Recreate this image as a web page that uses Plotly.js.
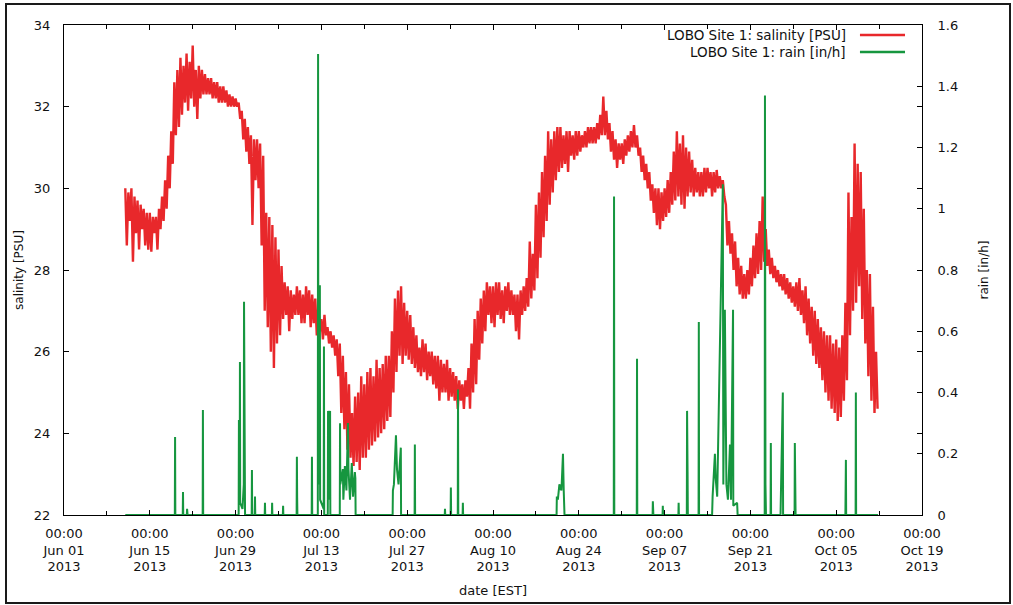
<!DOCTYPE html>
<html>
<head>
<meta charset="utf-8">
<script src="https://cdn.plot.ly/plotly-3.0.1.min.js"></script>
<style>
  html, body { margin: 0; padding: 0; background: #fff; }
  #chart { position: absolute; left: 0; top: 0; width: 1013px; height: 605px; }
  #frame { position: absolute; left: 5px; top: 3px; width: 1002px; height: 597px;
           border: 2px solid #1a1a1a; pointer-events: none; }
</style>
</head>
<body>
<div id="chart"></div>
<div id="frame"></div>
<script>
// LOBO Site 1 salinity [PSU], sampled every 6 hours from 2013-06-11 00:00
// (one row per day: high, low, high, low of the tide)
const salinityStart = '2013-06-11T00:00:00Z';
const salinityStepHours = 6;
const salinity = [
  30.0, 28.6, 29.9, 29.2,   30.0, 28.2, 29.8, 28.9,   29.7, 28.5, 29.6, 29.0,
  29.5, 28.6, 29.4, 28.5,   29.4, 28.45, 29.3, 28.9,  29.3, 28.5, 29.5, 29.0,
  29.8, 29.2, 30.2, 29.5,   30.8, 30.0, 31.4, 30.6,   32.6, 31.3, 32.9, 31.5,
  33.2, 31.8, 33.0, 32.1,   33.3, 31.9, 33.1, 32.2,   33.5, 32.0, 32.9, 31.7,
  33.0, 32.2, 32.9, 32.3,   32.8, 32.3, 32.7, 32.3,   32.7, 32.2, 32.6, 32.2,
  32.6, 32.1, 32.5, 32.1,   32.5, 32.1, 32.4, 32.0,   32.3, 32.0, 32.25, 32.0,
  32.2, 32.0, 32.1, 31.7,   31.9, 31.2, 31.7, 30.9,   31.5, 30.6, 31.3, 29.1,
  31.2, 30.2, 31.2, 30.0,   31.1, 28.6, 30.8, 27.0,   29.4, 26.6, 29.3, 26.0,
  29.1, 25.6, 28.8, 26.2,   28.5, 26.4, 28.1, 26.8,   27.7, 26.9, 27.6, 26.5,
  27.5, 26.8, 27.4, 26.9,   27.6, 26.9, 27.5, 26.7,   27.4, 26.7, 27.6, 26.9,
  27.5, 26.6, 27.4, 26.7,   27.3, 26.4, 27.1, 26.5,   26.8, 26.3, 26.9, 26.4,
  26.6, 26.2, 26.5, 26.1,   26.4, 25.9, 26.3, 25.4,   26.2, 24.5, 25.9, 24.1,
  25.5, 23.6, 25.2, 23.4,   24.5, 23.2, 24.9, 23.3,   25.0, 23.1, 25.4, 23.4,
  25.2, 23.4, 25.5, 23.6,   25.6, 23.7, 25.4, 23.8,   25.8, 23.9, 25.6, 24.0,
  25.7, 24.1, 25.9, 24.3,   25.9, 24.4, 26.5, 25.0,   27.3, 25.5, 27.5, 25.9,
  27.6, 25.7, 27.2, 25.9,   27.0, 25.8, 26.9, 25.7,   26.6, 25.6, 26.4, 25.5,
  26.1, 25.4, 26.3, 25.5,   26.2, 25.3, 26.0, 25.4,   26.0, 25.2, 25.9, 25.1,
  25.9, 24.8, 25.8, 25.0,   25.7, 25.0, 25.8, 24.8,   25.6, 24.9, 25.5, 24.8,
  25.4, 24.6, 25.3, 24.8,   25.2, 24.6, 25.3, 24.9,   25.6, 24.6, 26.2, 25.0,
  26.8, 25.2, 27.0, 25.8,   27.3, 26.2, 27.5, 26.5,   27.7, 26.9, 27.6, 26.7,
  27.6, 26.6, 27.7, 26.9,   27.7, 26.8, 27.5, 26.7,   27.6, 27.0, 27.7, 26.9,
  27.5, 26.9, 27.4, 26.5,   27.4, 26.3, 27.5, 26.9,   27.6, 27.0, 27.8, 27.1,
  28.7, 27.3, 28.4, 27.5,   29.6, 27.8, 29.9, 28.3,   30.4, 28.8, 30.8, 29.2,
  31.4, 29.6, 31.2, 29.9,   31.4, 30.2, 31.5, 30.4,   31.5, 30.5, 31.3, 30.6,
  31.4, 30.4, 31.4, 30.8,   31.3, 30.7, 31.4, 30.8,   31.4, 30.9, 31.3, 31.0,
  31.4, 31.0, 31.5, 31.1,   31.5, 31.1, 31.5, 31.1,   31.6, 31.2, 31.8, 31.3,
  32.25, 31.3, 31.9, 31.2,  31.6, 30.9, 31.4, 30.7,   31.2, 30.5, 31.1, 30.7,
  31.1, 30.6, 31.2, 30.8,   31.3, 30.9, 31.4, 31.0,   31.55, 31.0, 31.3, 30.8,
  31.0, 30.4, 30.8, 30.2,   30.6, 30.0, 30.4, 29.7,   30.1, 29.4, 30.0, 29.1,
  30.0, 29.0, 29.9, 29.2,   30.0, 29.3, 30.2, 29.4,   30.4, 29.6, 30.9, 29.7,
  31.4, 29.8, 31.1, 29.6,   31.3, 29.5, 31.0, 29.8,   30.9, 29.9, 30.7, 29.8,
  30.5, 29.9, 30.4, 29.8,   30.4, 29.8, 30.5, 29.9,   30.5, 30.0, 30.4, 29.8,
  30.4, 29.9, 30.45, 30.0,  30.3, 30.0, 30.2, 29.8,   29.6, 28.6, 29.2, 28.4,
  28.9, 28.0, 28.7, 27.6,   28.3, 27.4, 28.1, 27.3,   27.9, 27.3, 28.0, 27.4,
  28.3, 27.6, 28.6, 27.8,   28.9, 27.9, 29.2, 28.0,   29.8, 28.2, 29.0, 28.1,
  28.5, 27.9, 28.3, 27.8,   28.1, 27.7, 28.0, 27.6,   27.9, 27.5, 27.9, 27.4,
  27.8, 27.3, 27.7, 27.2,   27.6, 27.1, 27.7, 27.0,   27.8, 26.9, 27.5, 26.7,
  27.6, 26.4, 27.3, 26.2,   27.1, 25.9, 27.0, 25.7,   26.8, 25.6, 26.6, 25.3,
  26.5, 25.0, 26.4, 24.8,   26.4, 24.6, 26.2, 24.5,   26.3, 24.3, 26.1, 24.4,
  26.4, 24.8, 27.2, 25.3,   29.9, 26.4, 29.3, 27.0,   31.1, 27.2, 30.6, 27.6,
  30.4, 26.8, 29.5, 26.2,   28.0, 25.4, 27.9, 24.8,   27.1, 24.5, 26.0, 24.6
];

// LOBO Site 1 rain [in/h]: readings as [time, value]; zero between showers
const rainReadings = [
  ['2013-06-11 00:00', 0],
  ['2013-06-19 02:00', 0], ['2013-06-19 03:00', 0.255], ['2013-06-19 04:00', 0],
  ['2013-06-20 09:00', 0], ['2013-06-20 10:00', 0.075], ['2013-06-20 11:00', 0],
  ['2013-06-21 01:00', 0], ['2013-06-21 02:00', 0.02], ['2013-06-21 04:00', 0],
  ['2013-06-23 15:00', 0], ['2013-06-23 16:00', 0.343], ['2013-06-23 17:00', 0],
  ['2013-06-29 12:00', 0], ['2013-06-29 13:00', 0.31], ['2013-06-29 14:00', 0.05],
  ['2013-06-29 16:00', 0.08], ['2013-06-29 17:00', 0.50], ['2013-06-29 18:00', 0.04],
  ['2013-06-30 03:00', 0.02], ['2013-06-30 08:00', 0.1], ['2013-06-30 09:00', 0.696],
  ['2013-06-30 10:00', 0.06], ['2013-06-30 12:00', 0.4], ['2013-06-30 13:00', 0],
  ['2013-07-01 15:00', 0], ['2013-07-01 16:00', 0.147], ['2013-07-01 17:00', 0],
  ['2013-07-02 03:00', 0], ['2013-07-02 04:00', 0.06], ['2013-07-02 05:00', 0],
  ['2013-07-03 18:00', 0], ['2013-07-03 19:00', 0.04], ['2013-07-03 20:00', 0],
  ['2013-07-04 22:00', 0], ['2013-07-04 23:00', 0.04], ['2013-07-05 00:00', 0],
  ['2013-07-06 17:00', 0], ['2013-07-06 18:00', 0.03], ['2013-07-06 19:00', 0],
  ['2013-07-08 23:00', 0], ['2013-07-09 00:00', 0.19], ['2013-07-09 01:00', 0.06], ['2013-07-09 02:00', 0],
  ['2013-07-11 10:00', 0], ['2013-07-11 11:00', 0.19], ['2013-07-11 12:00', 0],
  ['2013-07-12 10:00', 0], ['2013-07-12 11:00', 1.505], ['2013-07-12 12:00', 0.3],
  ['2013-07-12 17:00', 0.1], ['2013-07-12 18:00', 0.75], ['2013-07-12 19:00', 0.05],
  ['2013-07-13 09:00', 0.02], ['2013-07-13 10:00', 0.55], ['2013-07-13 11:00', 0],
  ['2013-07-14 01:00', 0], ['2013-07-14 02:00', 0.34], ['2013-07-14 04:00', 0.05],
  ['2013-07-14 10:00', 0.34], ['2013-07-14 11:00', 0],
  ['2013-07-16 00:00', 0], ['2013-07-16 01:00', 0.30], ['2013-07-16 02:00', 0.1],
  ['2013-07-16 12:00', 0.15], ['2013-07-16 14:00', 0.05], ['2013-07-16 20:00', 0.16],
  ['2013-07-17 02:00', 0.08], ['2013-07-17 08:00', 0.30], ['2013-07-17 10:00', 0.15],
  ['2013-07-17 16:00', 0.05], ['2013-07-17 23:00', 0.17], ['2013-07-18 04:00', 0.06],
  ['2013-07-18 11:00', 0.14], ['2013-07-18 13:00', 0.12], ['2013-07-18 14:00', 0],
  ['2013-07-24 15:00', 0], ['2013-07-24 16:00', 0.08], ['2013-07-24 20:00', 0.1],
  ['2013-07-25 04:00', 0.26], ['2013-07-25 08:00', 0.15], ['2013-07-25 14:00', 0.1],
  ['2013-07-25 23:00', 0.22], ['2013-07-26 00:00', 0],
  ['2013-07-28 05:00', 0], ['2013-07-28 06:00', 0.23], ['2013-07-28 07:00', 0],
  ['2013-08-02 03:00', 0], ['2013-08-02 04:00', 0.02], ['2013-08-02 05:00', 0],
  ['2013-08-03 02:00', 0], ['2013-08-03 03:00', 0.09], ['2013-08-03 04:00', 0],
  ['2013-08-04 06:00', 0], ['2013-08-04 07:00', 0.41], ['2013-08-04 08:00', 0],
  ['2013-08-05 01:00', 0], ['2013-08-05 02:00', 0.04], ['2013-08-05 03:00', 0],
  ['2013-08-20 09:00', 0], ['2013-08-20 10:00', 0.06], ['2013-08-20 14:00', 0.05],
  ['2013-08-20 20:00', 0.10], ['2013-08-21 04:00', 0.08], ['2013-08-21 10:00', 0.20],
  ['2013-08-21 13:00', 0.08], ['2013-08-21 16:00', 0],
  ['2013-08-29 17:00', 0], ['2013-08-29 18:00', 1.04], ['2013-08-29 19:00', 0],
  ['2013-09-02 11:00', 0], ['2013-09-02 12:00', 0.51], ['2013-09-02 13:00', 0],
  ['2013-09-05 01:00', 0], ['2013-09-05 02:00', 0.045], ['2013-09-05 04:00', 0],
  ['2013-09-06 16:00', 0], ['2013-09-06 17:00', 0.03], ['2013-09-06 18:00', 0],
  ['2013-09-09 06:00', 0], ['2013-09-09 07:00', 0.04], ['2013-09-09 08:00', 0],
  ['2013-09-10 15:00', 0], ['2013-09-10 16:00', 0.34], ['2013-09-10 18:00', 0.14], ['2013-09-10 19:00', 0],
  ['2013-09-12 13:00', 0], ['2013-09-12 14:00', 0.63], ['2013-09-12 15:00', 0],
  ['2013-09-14 18:00', 0], ['2013-09-14 20:00', 0.06], ['2013-09-15 05:00', 0.20],
  ['2013-09-15 08:00', 0.12], ['2013-09-15 14:00', 0.06], ['2013-09-16 12:00', 1.08],
  ['2013-09-16 14:00', 0.1], ['2013-09-16 20:00', 0.67], ['2013-09-17 02:00', 0.10],
  ['2013-09-17 08:00', 0.05], ['2013-09-17 16:00', 0.23], ['2013-09-17 20:00', 0.05],
  ['2013-09-18 04:00', 0.67], ['2013-09-18 05:00', 0.03], ['2013-09-18 20:00', 0.04],
  ['2013-09-18 22:00', 0],
  ['2013-09-23 08:00', 0], ['2013-09-23 09:00', 1.37], ['2013-09-23 11:00', 0.10], ['2013-09-23 13:00', 0],
  ['2013-09-24 07:00', 0], ['2013-09-24 08:00', 0.235], ['2013-09-24 09:00', 0],
  ['2013-09-25 22:00', 0], ['2013-09-26 00:00', 0.08], ['2013-09-26 07:00', 0.40], ['2013-09-26 08:00', 0],
  ['2013-09-28 05:00', 0], ['2013-09-28 06:00', 0.235], ['2013-09-28 08:00', 0.12], ['2013-09-28 09:00', 0],
  ['2013-10-06 12:00', 0], ['2013-10-06 13:00', 0.10], ['2013-10-06 14:00', 0.18], ['2013-10-06 15:00', 0],
  ['2013-10-08 04:00', 0], ['2013-10-08 05:00', 0.40], ['2013-10-08 06:00', 0],
  ['2013-10-11 20:00', 0]
];

// Bottom axis: a labelled tick every two weeks
const dateTicks = ['2013-06-01', '2013-06-15', '2013-06-29', '2013-07-13', '2013-07-27', '2013-08-10',
                   '2013-08-24', '2013-09-07', '2013-09-21', '2013-10-05', '2013-10-19'];
const dateTickLabels = ['Jun 01', 'Jun 15', 'Jun 29', 'Jul 13', 'Jul 27', 'Aug 10',
                        'Aug 24', 'Sep 07', 'Sep 21', 'Oct 05', 'Oct 19'];

const seriesNames = ['LOBO Site 1: salinity [PSU]', 'LOBO Site 1: rain [in/h]'];
const seriesColors = ['#e8282b', '#16963f'];

const t0 = Date.parse(salinityStart);
const salinityTime = salinity.map((_, i) => t0 + i * salinityStepHours * 3600000);

const traces = [
  {
    x: salinityTime, y: salinity, type: 'scatter', mode: 'lines', name: seriesNames[0],
    line: { color: seriesColors[0], width: 2.4 }, yaxis: 'y', hoverinfo: 'skip'
  },
  {
    x: rainReadings.map(r => r[0]), y: rainReadings.map(r => r[1]), type: 'scatter', mode: 'lines',
    name: seriesNames[1], line: { color: seriesColors[1], width: 2 }, yaxis: 'y2', hoverinfo: 'skip'
  }
];

const axisCommon = {
  ticks: 'inside', ticklen: 5, tickcolor: '#000', tickwidth: 1,
  showline: true, linecolor: '#000', linewidth: 1,
  showgrid: false, zeroline: false, fixedrange: true
};

// key in the top right corner: text first, line sample after it
const keyRows = [0.9796, 0.9449];
const annotations = seriesNames.map((name, i) => ({
  text: name, xref: 'paper', yref: 'paper', x: 0.9138, y: keyRows[i],
  xanchor: 'right', yanchor: 'middle', showarrow: false,
  font: { family: 'DejaVu Sans', size: 13.5, color: '#111' }
}));
const shapes = seriesNames.map((name, i) => ({
  type: 'line', xref: 'paper', yref: 'paper', x0: 0.9277, x1: 0.9802, y0: keyRows[i], y1: keyRows[i],
  line: { color: seriesColors[i], width: 2.5 }
}));

const layout = {
  width: 1013, height: 605,
  margin: { l: 64, r: 91, t: 25, b: 90, pad: 0 },
  paper_bgcolor: '#fff', plot_bgcolor: '#fff',
  font: { family: 'DejaVu Sans', size: 13, color: '#111' },
  showlegend: false,
  xaxis: Object.assign({}, axisCommon, {
    type: 'date', range: ['2013-06-01', '2013-10-19'],
    tickvals: dateTicks, ticktext: dateTickLabels.map(d => '00:00<br>' + d + '<br>2013'),
    mirror: 'ticks', ticklabelstandoff: 6,
    minor: { dtick: 7 * 86400000, tick0: '2013-06-01', ticks: 'inside', ticklen: 4, tickcolor: '#000', showgrid: false },
    title: { text: 'date [EST]', standoff: 12, font: { size: 13 } }
  }),
  yaxis: Object.assign({}, axisCommon, {
    range: [22, 34], tick0: 22, dtick: 2, mirror: 'ticks', ticklabelstandoff: 10,
    title: { text: 'salinity [PSU]', standoff: 7, font: { size: 12 } }
  }),
  yaxis2: Object.assign({}, axisCommon, {
    overlaying: 'y', side: 'right', range: [0, 1.6], tick0: 0, dtick: 0.2, ticklabelstandoff: 12,
    title: { text: 'rain [in/h]', standoff: 22, font: { size: 12 } }
  }),
  annotations: annotations,
  shapes: shapes
};

Plotly.newPlot('chart', traces, layout, { displayModeBar: false, staticPlot: true });
</script>
</body>
</html>
